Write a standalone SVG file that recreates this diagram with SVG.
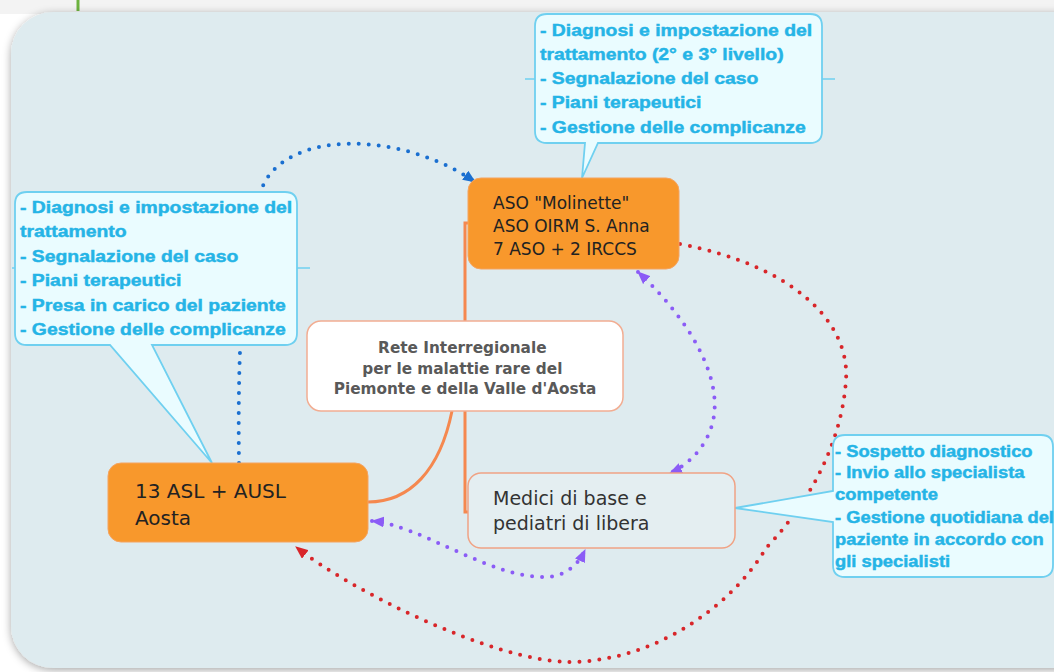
<svg xmlns="http://www.w3.org/2000/svg" width="1054" height="672" viewBox="0 0 1054 672">
<defs>
<filter id="sh" x="-5%" y="-5%" width="110%" height="110%">
<feDropShadow dx="0" dy="2" stdDeviation="4" flood-color="#000" flood-opacity="0.35"/>
</filter>
<marker id="ab" viewBox="0 0 12 10" refX="11" refY="5" markerWidth="13" markerHeight="11" markerUnits="userSpaceOnUse" orient="auto-start-reverse"><path d="M0,0 L12,5 L0,10 Z" fill="#1a6fd0"/></marker>
<marker id="ar" viewBox="0 0 12 10" refX="11" refY="5" markerWidth="13" markerHeight="11" markerUnits="userSpaceOnUse" orient="auto-start-reverse"><path d="M0,0 L12,5 L0,10 Z" fill="#d8262a"/></marker>
<marker id="ap" viewBox="0 0 12 10" refX="11" refY="5" markerWidth="13" markerHeight="11" markerUnits="userSpaceOnUse" orient="auto-start-reverse"><path d="M0,0 L12,5 L0,10 Z" fill="#8b5cf6"/></marker>
<style>
.dot{fill:none;stroke-width:4;stroke-linecap:round;stroke-dasharray:0 10}
.br{fill:none;stroke:#f5884f;stroke-width:3}
.cl{fill:none;stroke:#6fd0f0;stroke-width:1.5}
.co{fill:#eafcff;stroke:#6fd0f0;stroke-width:1.8}
.ct{font-family:"Liberation Sans",Arial,sans-serif;font-weight:bold;fill:#25b4e6;stroke:#25b4e6;stroke-width:0.45}
.on{fill:#f8982c;stroke:#f5a35f;stroke-width:1}
.ot{font-family:"DejaVu Sans",sans-serif;fill:#222}
</style>
</defs>
<rect x="0" y="0" width="1054" height="672" fill="#ffffff"/>
<rect x="0" y="0" width="1054" height="14" fill="#f3f3f3"/>
<line x1="78" y1="0" x2="78" y2="11" stroke="#6cb33e" stroke-width="3"/>
<rect x="11" y="12" width="1090" height="656" rx="42" fill="#deebef" filter="url(#sh)"/>

<g id="connectors">
<path class="br" d="M468,223 H465 V512 H468"/>
<path class="br" d="M452,411 C440,470 410,502 368,502"/>
<line class="cl" x1="525" y1="79" x2="835" y2="79"/>
<line class="cl" x1="12" y1="268" x2="310" y2="268"/>
<path class="dot" stroke="#1a6fd0" d="M239,463 C237,330 245,240 262,188 C285,130 400,130 475,182" marker-end="url(#ab)"/>
<path class="dot" stroke="#d8262a" d="M680,244 C790,265 850,320 846,380 C842,440 812,500 766,548 C736,600 660,662 568,662 C490,660 350,590 296,547" marker-end="url(#ar)"/>
<path class="dot" stroke="#8b5cf6" d="M638,272 C690,320 725,380 712,425 C706,446 690,464 670,473" marker-start="url(#ap)" marker-end="url(#ap)"/>
<path class="dot" stroke="#8b5cf6" d="M372,521 C420,525 490,578 545,577 C565,577 578,565 585,550" marker-start="url(#ap)" marker-end="url(#ap)"/>
</g>

<g id="callout-top">
<path class="co" d="M547,14 H810 Q822,14 822,26 V131 Q822,143 810,143 H598 L582,178 L585,143 H547 Q535,143 535,131 V26 Q535,14 547,14 Z"/>
<text class="ct" font-size="16.7" transform="translate(540,0) scale(1.16,1)">
<tspan x="0" y="36">- Diagnosi e impostazione del</tspan>
<tspan x="0" y="60">trattamento (2° e 3° livello)</tspan>
<tspan x="0" y="84">- Segnalazione del caso</tspan>
<tspan x="0" y="108">- Piani terapeutici</tspan>
<tspan x="0" y="133">- Gestione delle complicanze</tspan>
</text>
</g>

<g id="callout-left">
<path class="co" d="M27,192 H285 Q297,192 297,204 V333 Q297,345 285,345 H152 L212,463 L110,345 H27 Q15,345 15,333 V204 Q15,192 27,192 Z"/>
<text class="ct" font-size="16.7" transform="translate(20,0) scale(1.16,1)">
<tspan x="0" y="213">- Diagnosi e impostazione del</tspan>
<tspan x="0" y="237">trattamento</tspan>
<tspan x="0" y="262">- Segnalazione del caso</tspan>
<tspan x="0" y="286">- Piani terapeutici</tspan>
<tspan x="0" y="311">- Presa in carico del paziente</tspan>
<tspan x="0" y="335">- Gestione delle complicanze</tspan>
</text>
</g>

<g id="callout-right">
<path class="co" d="M845,435 H1041 Q1053,435 1053,447 V565 Q1053,577 1041,577 H845 Q833,577 833,565 V522 L735,508 L833,491 V447 Q833,435 845,435 Z"/>
<text class="ct" font-size="15.8" transform="translate(835,0) scale(1.16,1)">
<tspan x="0" y="457">- Sospetto diagnostico</tspan>
<tspan x="0" y="478">- Invio allo specialista</tspan>
<tspan x="0" y="500">competente</tspan>
<tspan x="0" y="523">- Gestione quotidiana del</tspan>
<tspan x="0" y="545">paziente in accordo con</tspan>
<tspan x="0" y="567">gli specialisti</tspan>
</text>
</g>

<g id="node-aso">
<rect class="on" x="468" y="178" width="211" height="91" rx="13"/>
<text class="ot" font-size="17">
<tspan x="493" y="209">ASO "Molinette"</tspan>
<tspan x="493" y="232">ASO OIRM S. Anna</tspan>
<tspan x="493" y="255">7 ASO + 2 IRCCS</tspan>
</text>
</g>

<g id="node-rete">
<rect x="307" y="321" width="316" height="90" rx="14" fill="#ffffff" stroke="#f2ad92" stroke-width="1.5"/>
<text font-family="DejaVu Sans, sans-serif" font-weight="bold" font-size="15.3" fill="#595959" text-anchor="middle">
<tspan x="465" y="353">Rete Interregionale</tspan>
<tspan x="465" y="374">per le malattie rare del</tspan>
<tspan x="465" y="394">Piemonte e della Valle d'Aosta</tspan>
</text>
</g>

<g id="node-asl">
<rect class="on" x="108" y="463" width="260" height="79" rx="13"/>
<text class="ot" font-size="20">
<tspan x="135" y="498">13 ASL + AUSL</tspan>
<tspan x="135" y="525">Aosta</tspan>
</text>
</g>

<g id="node-medici">
<rect x="468" y="473" width="267" height="75" rx="13" fill="#e4eef1" stroke="#f0a385" stroke-width="1.5"/>
<text font-family="DejaVu Sans, sans-serif" font-size="19" fill="#333333">
<tspan x="493" y="505">Medici di base e</tspan>
<tspan x="493" y="530">pediatri di libera</tspan>
</text>
</g>
</svg>
